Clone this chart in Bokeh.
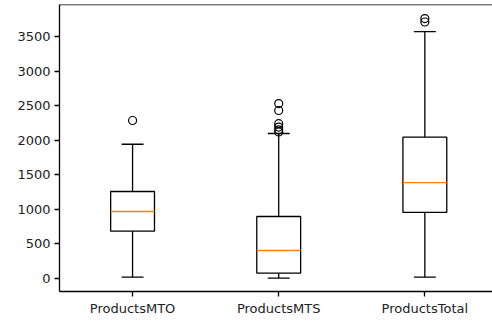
from bokeh.plotting import figure
from bokeh.models import FixedTicker, Span, ColumnDataSource
from bokeh.embed import file_html
from bokeh.resources import INLINE

categories = ["ProductsMTO", "ProductsMTS", "ProductsTotal"]
positions = [1, 2, 3]
lower_whisker = [19, 5, 19]
q1 = [684, 77, 955]
median = [969, 405, 1388]
q3 = [1258, 897, 2044]
upper_whisker = [1942, 2097, 3570]
outliers = [[2285], [2530, 2430, 2240, 2190, 2150, 2120], [3760, 3710]]
y_ticks = [0, 500, 1000, 1500, 2000, 2500, 3000, 3500]

box_w = 0.3
cap_w = 0.15
y_top = 3963

p = figure(width=492, height=321, x_range=(0.5, 3.463), y_range=(-188, y_top),
           output_backend="svg", toolbar_location=None,
           min_border_left=59, min_border_right=0, min_border_top=4, min_border_bottom=30)
p.outline_line_color = None
p.xgrid.visible = False
p.ygrid.visible = False
p.background_fill_color = None
p.border_fill_color = None

src = ColumnDataSource(dict(
    x=positions, lw=lower_whisker, q1=q1, med=median, q3=q3, uw=upper_whisker,
    xl=[x - box_w / 2 for x in positions], xr=[x + box_w / 2 for x in positions],
    cl=[x - cap_w / 2 for x in positions], cr=[x + cap_w / 2 for x in positions],
))

lw_ = 1.3
p.segment(x0="x", y0="q3", x1="x", y1="uw", source=src, line_color="black", line_width=lw_)
p.segment(x0="x", y0="lw", x1="x", y1="q1", source=src, line_color="black", line_width=lw_)
p.segment(x0="cl", y0="uw", x1="cr", y1="uw", source=src, line_color="black", line_width=lw_)
p.segment(x0="cl", y0="lw", x1="cr", y1="lw", source=src, line_color="black", line_width=lw_)
p.quad(left="xl", right="xr", bottom="q1", top="q3", source=src,
       fill_color=None, line_color="black", line_width=lw_)
p.segment(x0="xl", y0="med", x1="xr", y1="med", source=src, line_color="#ff7f0e", line_width=lw_)

ox, oy = [], []
for x, vals in zip(positions, outliers):
    for v in vals:
        ox.append(x)
        oy.append(v)
p.scatter(ox, oy, marker="circle", size=8, fill_color=None, line_color="black", line_width=1.2)

p.add_layout(Span(location=y_top, dimension="width", line_color="black", line_width=1.3))

for ax in (p.xaxis[0], p.yaxis[0]):
    ax.axis_line_color = "black"
    ax.axis_line_width = 1.3
    ax.major_tick_line_color = "black"
    ax.major_tick_line_width = 1.3
    ax.minor_tick_line_color = None
    ax.major_tick_in = 0
    ax.major_tick_out = 5
    ax.major_label_text_font = "DejaVu Sans"
    ax.major_label_text_font_size = "13px"
    ax.major_label_text_color = "#222222"
    ax.major_label_standoff = 4

p.xaxis.ticker = FixedTicker(ticks=positions)
p.xaxis.major_label_overrides = {pos: c for pos, c in zip(positions, categories)}
p.yaxis.ticker = FixedTicker(ticks=y_ticks)

open("out.html", "w").write(file_html(p, INLINE))
